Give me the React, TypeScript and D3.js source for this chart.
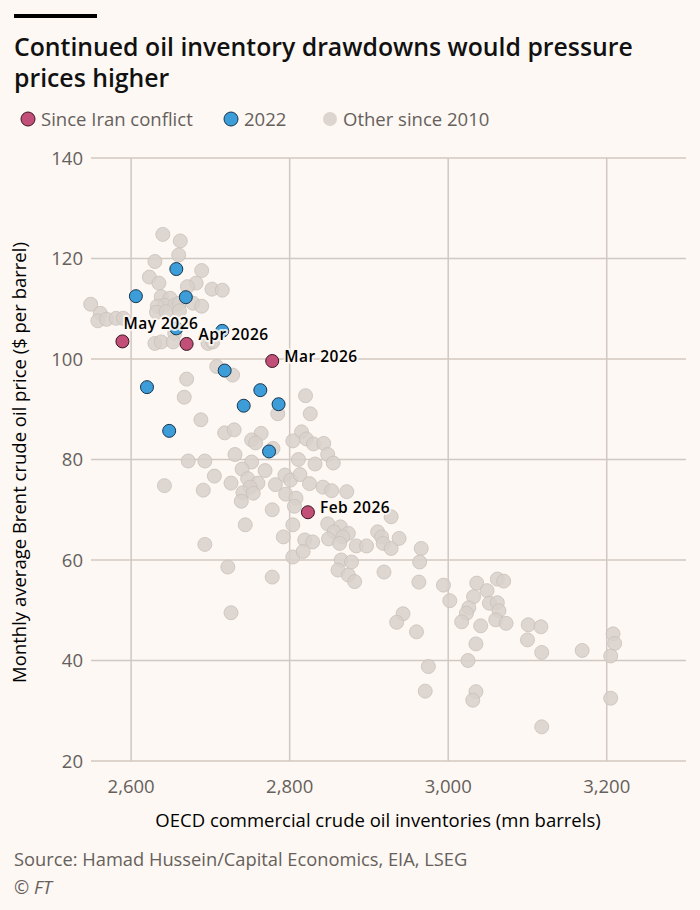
import React from "react";
import * as d3 from "d3";

// OECD commercial crude inventories (mn barrels) vs monthly average Brent ($/bbl)
const otherSince2010: [number, number][] = [
  [2640, 124.8], [2662, 123.5], [2660, 120.7], [2630, 119.4], [2689, 117.6],
  [2623, 116.3], [2635, 115.1], [2682, 115.1], [2671, 114.4], [2702, 113.9],
  [2715, 113.7], [2549, 110.9], [2638, 112.4], [2649, 112.1], [2642, 110.7],
  [2633, 110.5], [2655, 110.7], [2661, 111.1], [2678, 111.1], [2689, 110.5],
  [2632, 109.3], [2644, 109.4], [2661, 109.6], [2561, 109.1], [2558, 107.6],
  [2569, 107.9], [2581, 108.1], [2590, 108.1], [2655, 105.1], [2630, 103.1],
  [2638, 103.4], [2653, 103.4], [2697, 103.1], [2703, 103.4], [2708, 98.5],
  [2728, 96.8], [2670, 96.0], [2667, 92.4], [2688, 87.9], [2718, 85.3],
  [2730, 85.9], [2764, 85.2], [2752, 83.9], [2757, 83.3], [2779, 82.2],
  [2820, 92.7], [2826, 89.1], [2785, 89.1], [2815, 85.5], [2821, 84.1],
  [2804, 83.7], [2830, 83.1], [2843, 83.2], [2848, 81.0], [2855, 79.3],
  [2731, 81.0], [2672, 79.7], [2693, 79.7], [2752, 79.5], [2740, 78.1],
  [2769, 77.8], [2811, 80.0], [2832, 79.1], [2705, 76.7], [2726, 75.3],
  [2747, 76.2], [2760, 75.3], [2750, 74.5], [2741, 73.4], [2754, 73.3],
  [2739, 71.7], [2642, 74.8], [2691, 73.9], [2782, 75.0], [2795, 73.1],
  [2794, 76.9], [2801, 75.9], [2813, 77.0], [2825, 75.2], [2842, 74.5],
  [2853, 73.8], [2872, 73.6], [2808, 72.3], [2806, 70.7], [2778, 70.0],
  [2744, 67.0], [2804, 67.0], [2792, 64.6], [2819, 64.0], [2829, 63.6],
  [2693, 63.1], [2804, 60.6], [2817, 61.7], [2928, 68.6], [2848, 67.2],
  [2864, 66.6], [2856, 65.6], [2874, 65.3], [2867, 64.6], [2849, 64.2],
  [2863, 63.3], [2911, 65.6], [2916, 64.6], [2918, 63.3], [2928, 62.3],
  [2938, 64.3], [2884, 62.8], [2897, 62.8], [2966, 62.3], [2964, 59.6],
  [2865, 60.0], [2878, 59.6], [2861, 58.0], [2874, 57.0], [2882, 55.7],
  [2919, 57.6], [2963, 55.6], [2722, 58.6], [2778, 56.6], [2726, 49.5],
  [2994, 55.0], [3002, 51.9], [3036, 55.4], [3062, 56.2], [3070, 55.8],
  [3049, 53.9], [3032, 52.7], [3052, 51.4], [3062, 51.5], [3026, 50.5],
  [3023, 49.4], [3017, 47.7], [3064, 49.9], [3060, 48.1], [3073, 47.4],
  [3041, 46.9], [3101, 47.1], [3117, 46.7], [3100, 44.1], [3118, 41.6],
  [3035, 43.3], [3025, 40.0], [2943, 49.3], [2935, 47.6], [2960, 45.7],
  [2975, 38.8], [2971, 33.9], [3035, 33.8], [3031, 32.1], [3169, 42.0],
  [3208, 45.3], [3210, 43.4], [3205, 40.9], [3205, 32.5], [3118, 26.8],
];

const year2022: [number, number][] = [
  [2657, 117.9], [2606, 112.5], [2669, 112.3], [2657, 106.1], [2715, 105.6],
  [2718, 97.7], [2620, 94.4], [2763, 93.8], [2742, 90.7], [2786, 91.0],
  [2648, 85.7], [2774, 81.6],
];

const sinceIranConflict: [number, number][] = [
  [2823, 69.5], [2778, 99.6], [2670, 103.0], [2589, 103.5],
];
const iranLabels = ["Feb 2026", "Mar 2026", "Apr 2026", "May 2026"];
// label offsets relative to each point (dx, dy)
const iranLabelOffsets: [number, number][] = [[12, 0.5], [12, 0.5], [12, -4], [1, -12]];

const xTicks = [2600, 2800, 3000, 3200];
const yTicks = [20, 40, 60, 80, 100, 120, 140];

const legendItems = [
  { label: "Since Iran conflict", color: "#c24f78", stroke: "#3b1422" },
  { label: "2022", color: "#3d9dd8", stroke: "#17364f" },
  { label: "Other since 2010", color: "#dcd4ce", stroke: "none" },
];

const W = 700;
const H = 910;
const BG = "#fdf8f3";
const GRID = "#d0c8c1";
const FONT = "'Open Sans', Lato, sans-serif";
const TICK = "#66605c";

export default function App() {
  const x = d3.scaleLinear().domain([2550, 3300]).range([91.5, 686]);
  const y = d3.scaleLinear().domain([20, 140]).range([761, 158]);
  const fmt = d3.format(",");
  const r = 7;

  const legendX = [28, 231, 330];

  return (
    <svg
      width={W}
      height={H}
      style={{ position: "absolute", left: 0, top: 0, display: "block" }}
      fontFamily={FONT}
    >
      <rect width={W} height={H} fill={BG} />
      <rect x={14} y={14} width={83} height={4} fill="#000" />
      <text x={14} y={56} fontSize={24.8} fontWeight={600} fill="#111">
        Continued oil inventory drawdowns would pressure
      </text>
      <text x={14} y={87} fontSize={24.8} fontWeight={600} fill="#111">
        prices higher
      </text>

      {legendItems.map((d, i) => (
        <g key={d.label} transform={`translate(${legendX[i]},119)`}>
          <circle r={r} fill={d.color} stroke={d.stroke} strokeWidth={1} />
          <text x={13} y={6.5} fontSize={18.5} fill={TICK}>
            {d.label}
          </text>
        </g>
      ))}

      {/* grid */}
      {yTicks.map((t) => (
        <g key={`y${t}`}>
          <line x1={91} x2={686} y1={y(t)} y2={y(t)} stroke={GRID} strokeWidth={1.5} />
          <text x={83} y={y(t) + 6.5} textAnchor="end" fontSize={18.5} fill={TICK}>
            {t}
          </text>
        </g>
      ))}
      {xTicks.map((t) => (
        <g key={`x${t}`}>
          <line x1={x(t)} x2={x(t)} y1={y(140)} y2={y(20)} stroke={GRID} strokeWidth={1.5} />
          <text x={x(t)} y={792.5} textAnchor="middle" fontSize={18.5} fill={TICK}>
            {fmt(t)}
          </text>
        </g>
      ))}

      <text x={378} y={826.5} textAnchor="middle" fontSize={18.5} fill="#000">
        OECD commercial crude oil inventories (mn barrels)
      </text>
      <text
        transform={`translate(26,${(158 + 761) / 2 + 3}) rotate(-90)`}
        textAnchor="middle"
        fontSize={18.5}
        fill="#000"
      >
        Monthly average Brent crude oil price ($ per barrel)
      </text>

      {/* points */}
      {otherSince2010.map(([a, b], i) => (
        <circle key={`o${i}`} cx={x(a)} cy={y(b)} r={r} fill="#d8d0ca" fillOpacity={0.85} stroke="#c9c0b9" strokeWidth={0.8} />
      ))}
      {year2022.map(([a, b], i) => (
        <circle key={`b${i}`} cx={x(a)} cy={y(b)} r={6.5} fill="#3d9dd8" stroke="#17364f" strokeWidth={1} />
      ))}
      {sinceIranConflict.map(([a, b], i) => (
        <circle key={`r${i}`} cx={x(a)} cy={y(b)} r={6.5} fill="#c24f78" stroke="#3b1422" strokeWidth={1} />
      ))}
      {sinceIranConflict.map(([a, b], i) => (
        <text
          key={`l${i}`}
          x={x(a) + iranLabelOffsets[i][0]}
          y={y(b) + iranLabelOffsets[i][1]}
          fontSize={15.5}
          fontWeight={600}
          letterSpacing={0.5}
          fill="#000"
          stroke={BG}
          strokeWidth={4}
          strokeOpacity={0.85}
          strokeLinejoin="round"
          paintOrder="stroke"
        >
          {iranLabels[i]}
        </text>
      ))}

      <text x={14} y={866} fontSize={18.3} fill={TICK}>
        Source: Hamad Hussein/Capital Economics, EIA, LSEG
      </text>
      <text x={14} y={894} fontSize={18.3} fill={TICK} fontStyle="italic">
        © FT
      </text>
    </svg>
  );
}
